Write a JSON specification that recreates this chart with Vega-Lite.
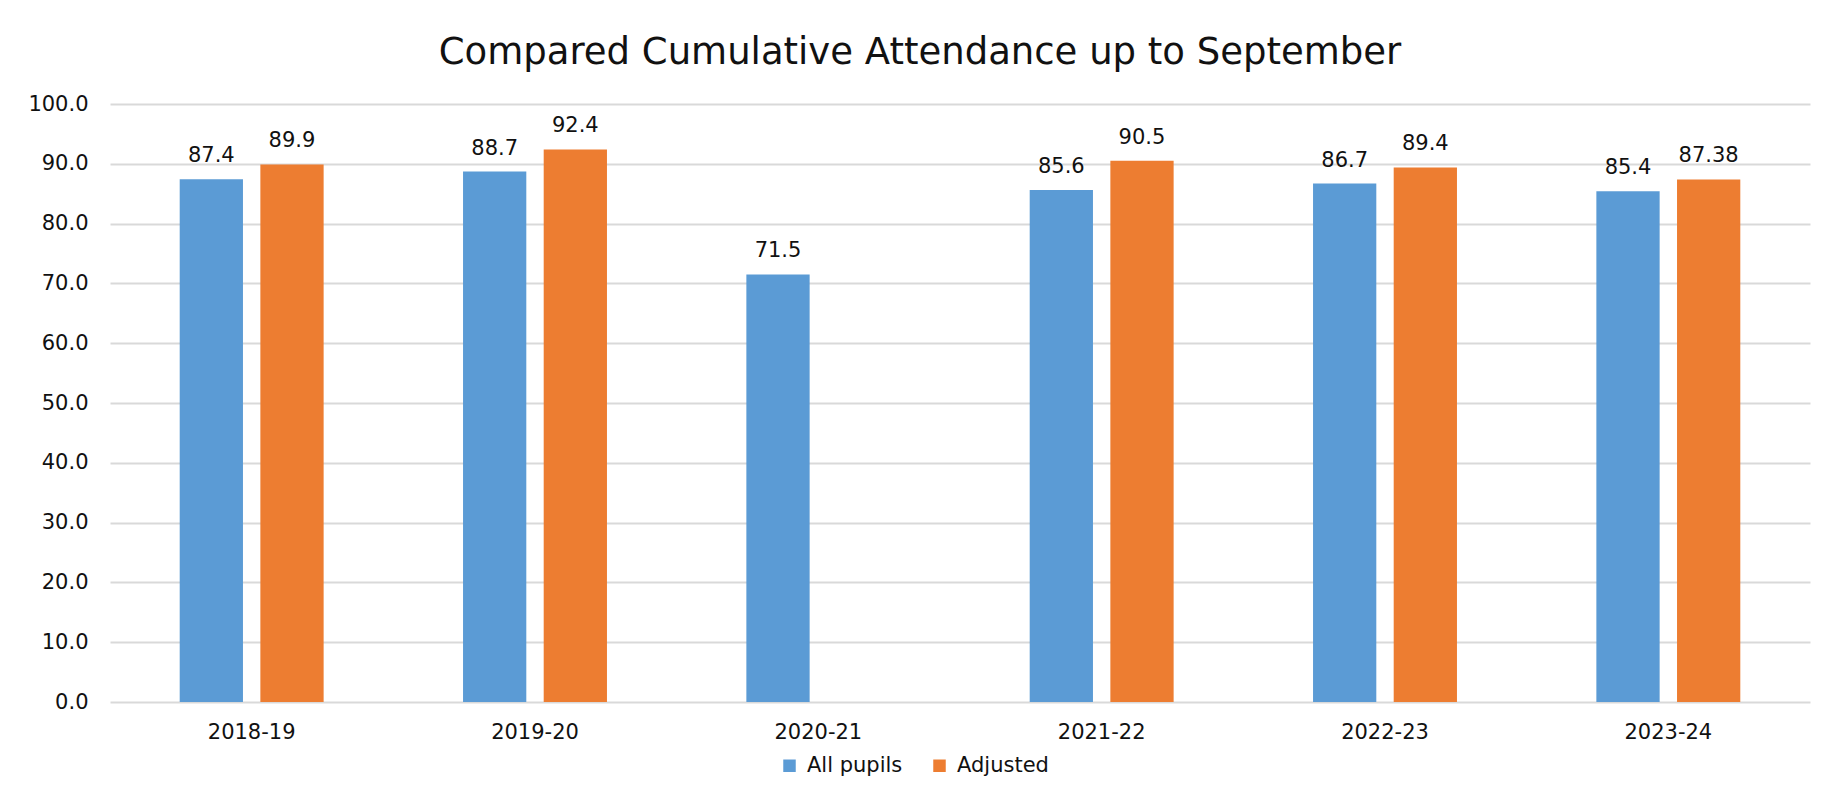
{
  "$schema": "https://vega.github.io/schema/vega-lite/v6.json",
  "width": 1700,
  "height": 598,
  "autosize": {"type": "none"},
  "padding": {"left": 110, "top": 104, "right": 26, "bottom": 87},
  "background": "white",
  "title": {
    "text": "Compared Cumulative Attendance up to September",
    "font": "DejaVu Sans",
    "fontSize": 37,
    "fontWeight": "normal",
    "color": "#111111",
    "anchor": "middle",
    "offset": 21,
    "dx": -40
  },
  "data": {
    "values": [
      {"year": "2018-19", "series": "All pupils", "value": 87.4},
      {"year": "2018-19", "series": "Adjusted", "value": 89.9},
      {"year": "2019-20", "series": "All pupils", "value": 88.7},
      {"year": "2019-20", "series": "Adjusted", "value": 92.4},
      {"year": "2020-21", "series": "All pupils", "value": 71.5},
      {"year": "2021-22", "series": "All pupils", "value": 85.6},
      {"year": "2021-22", "series": "Adjusted", "value": 90.5},
      {"year": "2022-23", "series": "All pupils", "value": 86.7},
      {"year": "2022-23", "series": "Adjusted", "value": 89.4},
      {"year": "2023-24", "series": "All pupils", "value": 85.4},
      {"year": "2023-24", "series": "Adjusted", "value": 87.38}
    ]
  },
  "encoding": {
    "x": {
      "field": "year",
      "type": "nominal",
      "sort": null,
      "scale": {"paddingInner": 0.492, "paddingOuter": 0.246},
      "axis": {
        "title": null,
        "labelAngle": 0,
        "domain": false,
        "ticks": false,
        "labelPadding": 19,
        "labelFont": "DejaVu Sans",
        "labelFontSize": 21,
        "labelColor": "#111111"
      }
    },
    "xOffset": {
      "field": "series",
      "type": "nominal",
      "scale": {"domain": ["All pupils", "Adjusted"], "paddingInner": 0.2156, "paddingOuter": 0}
    },
    "y": {
      "field": "value",
      "type": "quantitative",
      "scale": {"domain": [0, 100], "nice": false},
      "axis": {
        "title": null,
        "values": [0, 10, 20, 30, 40, 50, 60, 70, 80, 90, 100],
        "format": ".1f",
        "domain": false,
        "ticks": false,
        "labelPadding": 22,
        "labelFont": "DejaVu Sans",
        "labelFontSize": 21,
        "labelColor": "#111111",
        "gridColor": "#d9d9d9",
        "gridWidth": 2
      }
    }
  },
  "layer": [
    {
      "mark": {"type": "bar"},
      "encoding": {
        "color": {
          "field": "series",
          "type": "nominal",
          "scale": {"domain": ["All pupils", "Adjusted"], "range": ["#5B9BD5", "#ED7D31"]},
          "legend": {
            "title": null,
            "orient": "none",
            "legendX": 669,
            "legendY": 651,
            "direction": "horizontal",
            "symbolType": "square",
            "symbolSize": 156,
            "symbolStrokeWidth": 0,
            "labelFont": "DejaVu Sans",
            "labelFontSize": 21,
            "labelColor": "#111111",
            "labelOffset": 7,
            "columnPadding": 26
          }
        }
      }
    },
    {
      "mark": {
        "type": "text",
        "baseline": "alphabetic",
        "dy": -17,
        "font": "DejaVu Sans",
        "fontSize": 21,
        "color": "#111111"
      },
      "encoding": {
        "text": {"field": "value", "type": "quantitative"}
      }
    }
  ],
  "config": {"view": {"stroke": null}}
}
